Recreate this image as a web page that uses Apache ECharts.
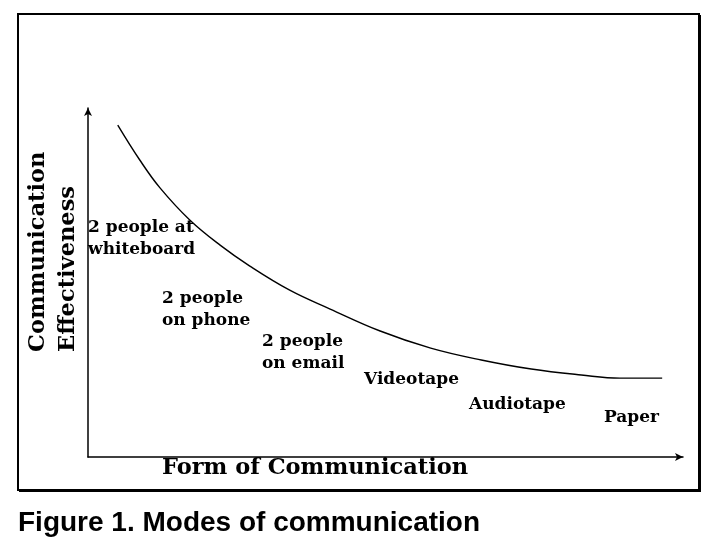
<!DOCTYPE html>
<html>
<head>
<meta charset="utf-8">
<script src="https://cdn.jsdelivr.net/npm/echarts@6/dist/echarts.min.js"></script>
<style>
  html,body{margin:0;padding:0;background:#fff;}
  #modes-chart{width:704px;height:556px;}
</style>
</head>
<body>
<div id="modes-chart"></div>
<script>
  /* curve (0-100 both ways) */
  const curveX = [5.0, 8.7, 12.1, 17.1, 22.2, 27.2, 33.9, 40.7, 49.1, 57.6, 66.1, 74.5, 82.9, 89.4, 96.5];
  const curveY = [95.1, 85.1, 77.1, 67.9, 60.7, 54.7, 47.8, 42.4, 36.1, 31.2, 27.8, 25.2, 23.5, 22.6, 22.6];
  const modes = ['2 people at\nwhiteboard', '2 people\non phone', '2 people\non email', 'Videotape', 'Audiotape', 'Paper'];
  const xTitle = 'Form of Communication';
  const yTitle = ['Communication', 'Effectiveness'];
  const caption = 'Figure 1. Modes of communication';

  const serif = 'DejaVu Serif';
  /* where each mode label sits (pixels, left / middle of first line) */
  const modePos = [[88, 228], [162, 299], [262, 342], [364, 380], [469, 405], [604, 418]];

  let chart = echarts.init(document.getElementById('modes-chart'), null, {renderer:'canvas'});

  let graphics = [
    {type:'rect', shape:{x:18, y:14, width:681, height:476}, style:{fill:'none', stroke:'#000', lineWidth:2}, z:1},
    {type:'line', shape:{x1:700, y1:15, x2:700, y2:491}, style:{stroke:'#000', lineWidth:2}},
    {type:'line', shape:{x1:19, y1:491, x2:701, y2:491}, style:{stroke:'#000', lineWidth:2}},
    {type:'text', x:315, y:468, style:{text:xTitle, font:'bold 22.5px "' + serif + '"', fill:'#000', align:'center', verticalAlign:'middle'}},
    {type:'text', x:38, y:352, rotation:Math.PI/2, style:{text:yTitle[0], font:'bold 22.5px "' + serif + '"', fill:'#000', align:'left', verticalAlign:'middle'}},
    {type:'text', x:68, y:352, rotation:Math.PI/2, style:{text:yTitle[1], font:'bold 22.5px "' + serif + '"', fill:'#000', align:'left', verticalAlign:'middle'}},
    {type:'text', x:18, y:523, style:{text:caption, font:'bold 28px "Liberation Sans"', fill:'#000', align:'left', verticalAlign:'middle'}}
  ];
  modes.forEach((m, i) => {
    graphics.push({type:'text', x:modePos[i][0], y:modePos[i][1] - 11,
      style:{text:m, font:'bold 17px "' + serif + '"', lineHeight:22, fill:'#000', align:'left', verticalAlign:'top'}});
  });

  let option = {
    animation:false,
    backgroundColor:'#fff',
    grid:{left:88, right:21, top:108, bottom:99},
    xAxis:{
      type:'value', min:0, max:100,
      axisLine:{show:true, symbol:['none','arrow'], symbolSize:[6,8], lineStyle:{color:'#000', width:1.5}},
      axisTick:{show:false}, axisLabel:{show:false}, splitLine:{show:false}
    },
    yAxis:{
      type:'value', min:0, max:100,
      axisLine:{show:true, symbol:['none','arrow'], symbolSize:[6,8], lineStyle:{color:'#000', width:1.5}},
      axisTick:{show:false}, axisLabel:{show:false}, splitLine:{show:false}
    },
    series:[{
      type:'line',
      data:curveX.map((x, i) => [x, curveY[i]]),
      smooth:0.4,
      showSymbol:false,
      lineStyle:{color:'#000', width:1.4}
    }],
    graphic:graphics
  };
  chart.setOption(option, true);
</script>
</body>
</html>
